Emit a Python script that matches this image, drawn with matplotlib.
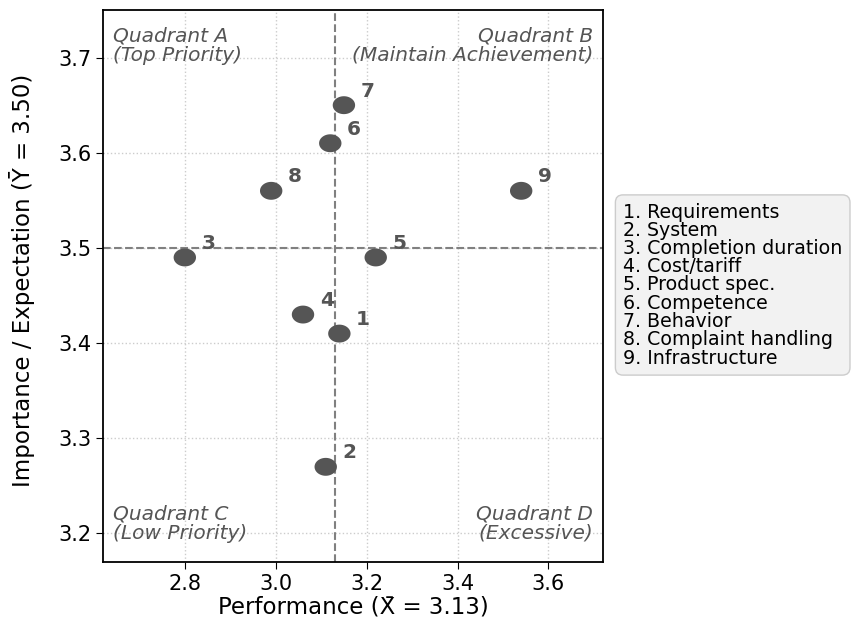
import matplotlib
matplotlib.use("Agg")
import matplotlib.pyplot as plt
import numpy as np
from matplotlib.path import Path

ids = ["1", "2", "3", "4", "5", "6", "7", "8", "9"]
names = ["Requirements", "System", "Completion duration", "Cost/tariff",
         "Product spec.", "Competence", "Behavior", "Complaint handling",
         "Infrastructure"]
performance = [3.14, 3.11, 2.80, 3.06, 3.22, 3.12, 3.15, 2.99, 3.54]
importance = [3.41, 3.27, 3.49, 3.43, 3.49, 3.61, 3.65, 3.56, 3.56]
x_mean = 3.13
y_mean = 3.50

# slightly wide elliptical marker (reference looks horizontally stretched)
t = np.linspace(0, 2 * np.pi, 60)
ell = Path(np.column_stack([np.cos(t), 0.8 * np.sin(t)]), closed=True)

fig = plt.figure(figsize=(8.53, 6.21), dpi=100)
ax = fig.add_axes([103/853, 1-562/621, 500/853, 552/621])

ax.scatter(performance, importance, s=260, marker=ell, color="#555555", zorder=3,
           edgecolors="none")
for i, (x, y) in enumerate(zip(performance, importance)):
    ax.annotate(ids[i], (x, y), xytext=(12, 6), textcoords="offset points",
                fontsize=14.5, fontweight="bold", color="#555555")

ax.axvline(x_mean, color="gray", linestyle="--", linewidth=1.5, zorder=2)
ax.axhline(y_mean, color="gray", linestyle="--", linewidth=1.5, zorder=2)

ax.set_xlim(2.62, 3.72)
ax.set_ylim(3.17, 3.75)
ax.set_xticks([2.8, 3.0, 3.2, 3.4, 3.6])
ax.set_yticks([3.2, 3.3, 3.4, 3.5, 3.6, 3.7])
ax.grid(True, linestyle=":", color="#cccccc", linewidth=1)
ax.tick_params(labelsize=15, length=5)
for s in ax.spines.values():
    s.set_linewidth(1.3)

ax.set_xlabel("Performance (X̄ = 3.13)", fontsize=16.5, labelpad=1)
ax.set_ylabel("Importance / Expectation (Ȳ = 3.50)", fontsize=16.5)
ax.yaxis.set_label_coords(-0.135, 0.51)

qkw = dict(fontsize=14.5, style="italic", color="#555555", transform=ax.transAxes,
           linespacing=1.0)
ax.text(0.02, 0.97, "Quadrant A\n(Top Priority)", ha="left", va="top", **qkw)
ax.text(0.98, 0.97, "Quadrant B\n(Maintain Achievement)", ha="right", va="top", **qkw)
ax.text(0.02, 0.035, "Quadrant C\n(Low Priority)", ha="left", va="bottom", **qkw)
ax.text(0.98, 0.035, "Quadrant D\n(Excessive)", ha="right", va="bottom", **qkw)

legend_text = "\n".join(f"{i}. {n}" for i, n in zip(ids, names))
fig.text(623/853, 1-285/621, legend_text, fontsize=13.7, va="center", ha="left",
         linespacing=0.95,
         bbox=dict(boxstyle="round,pad=0.4", facecolor="#f2f2f2", edgecolor="#cccccc"))

fig.savefig("out.png", dpi=100)
